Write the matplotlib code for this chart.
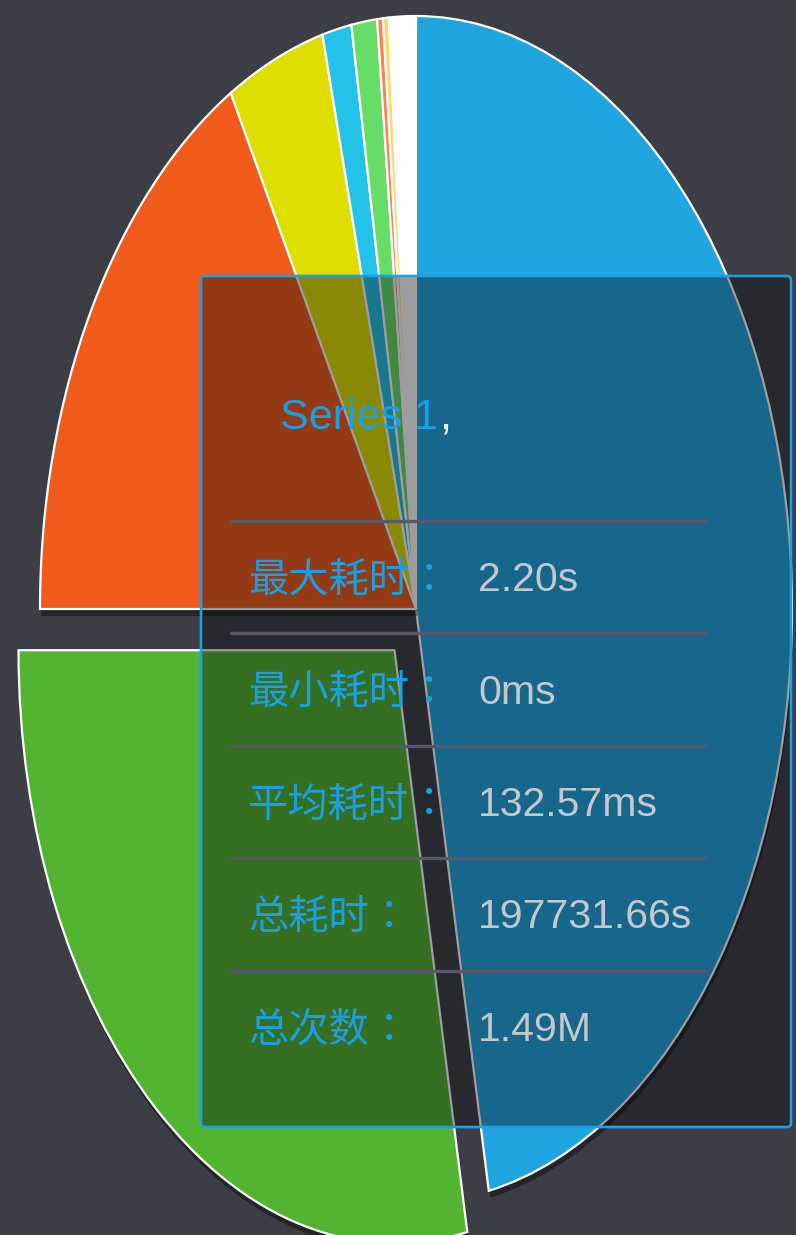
import matplotlib
matplotlib.use('Agg')
import matplotlib.pyplot as plt
from matplotlib.patches import FancyBboxPatch
import matplotlib.patheffects as pe

# ---------------- data ----------------
slice_names = ['Series 1', 'Series 2', 'Series 3', 'Series 4', 'Series 5',
               'Series 6', 'Series 7', 'Series 8', 'Series 9']
slice_values = [46.9, 28.1, 16.8, 4.2, 1.25, 1.1, 0.25, 0.25, 1.15]
slice_colors = ['#20a5e0', '#52b430', '#f05a1a', '#dede00', '#24c2e6',
                '#66dd66', '#ff8050', '#ffd966', '#ffffff']
slice_explode = [0, 0.09, 0, 0, 0, 0, 0, 0, 0]

tooltip_title = 'Series 1'
tooltip_labels = ['最大耗时：', '最小耗时：', '平均耗时：', '总耗时：', '总次数：']
tooltip_values = ['2.20s', '0ms', '132.57ms', '197731.66s', '1.49M']

# ---------------- layout ----------------
W, H, DPI = 796, 1235, 100
BG = '#3c3d45'
CX, CY, RX, RY = 416, 609, 376, 593   # pie centre / radii in pixels

fig = plt.figure(figsize=(W / DPI, H / DPI), dpi=DPI, facecolor=BG)

ax = fig.add_axes([0, 0, 1, 1])
ax.set_facecolor(BG)
wedges, _ = ax.pie(
    slice_values, colors=slice_colors, explode=slice_explode,
    startangle=90, counterclock=False, radius=1,
    wedgeprops=dict(edgecolor='white', linewidth=1.6,
                    path_effects=[pe.SimplePatchShadow(offset=(1, -5), shadow_rgbFace='black', alpha=0.4),
                                  pe.Normal()]))
ax.set_aspect('auto')
ax.set_xlim(-CX / RX, (W - CX) / RX)
ax.set_ylim(-(H - CY) / RY, CY / RY)
ax.axis('off')

# overlay axes in pixel coordinates
ov = fig.add_axes([0, 0, 1, 1], zorder=2)
ov.set_xlim(0, W)
ov.set_ylim(H, 0)
ov.axis('off')
ov.patch.set_alpha(0)

box = FancyBboxPatch((201, 276), 590, 851,
                     boxstyle='round,pad=0,rounding_size=4',
                     facecolor=(0.04, 0.04, 0.06, 0.40),
                     edgecolor='#1e9fe3', linewidth=1.9)
ov.add_patch(box)

label_color = '#1a9fe3'
value_color = '#c4c8cc'
latin = ['Liberation Sans', 'DejaVu Sans']
cjk = ['Noto Sans CJK SC', 'DejaVu Sans']
cjk_punct = ['Noto Sans CJK TC', 'Noto Sans CJK SC', 'DejaVu Sans']

t = ov.text(280, 418, tooltip_title, color=label_color, fontsize=31,
            family=latin, ha='left', va='center')
fig.canvas.draw()
bb = t.get_window_extent()
x_end = bb.x1  # pixel coords equal data coords in x for the overlay
ov.text(x_end + 1, 418, ',', color='#e8eef2', fontsize=31, family=latin,
        ha='left', va='center')

# separators
sep_y = [521, 633, 746, 858, 971]
for y in sep_y:
    ov.plot([230, 707], [y, y], color='#58586a', lw=2.4, solid_capstyle='butt')

row_y0, row_step = 580, 112.5
for i, (lab, val) in enumerate(zip(tooltip_labels, tooltip_values)):
    y = row_y0 + i * row_step
    body = lab.rstrip('：')
    tb = ov.text(248, y, body, color=label_color, fontsize=29, family=cjk,
                 fontweight='medium', ha='left', va='center')
    fig.canvas.draw()
    xb = tb.get_window_extent().x1
    ov.text(xb, y, lab[len(body):], color=label_color, fontsize=29, family=cjk_punct,
            fontweight='medium', ha='left', va='center')
    ov.text(478, y, val, color=value_color, fontsize=29.5, family=latin,
            ha='left', va='center')

fig.savefig('out.png', dpi=DPI, facecolor=BG)
